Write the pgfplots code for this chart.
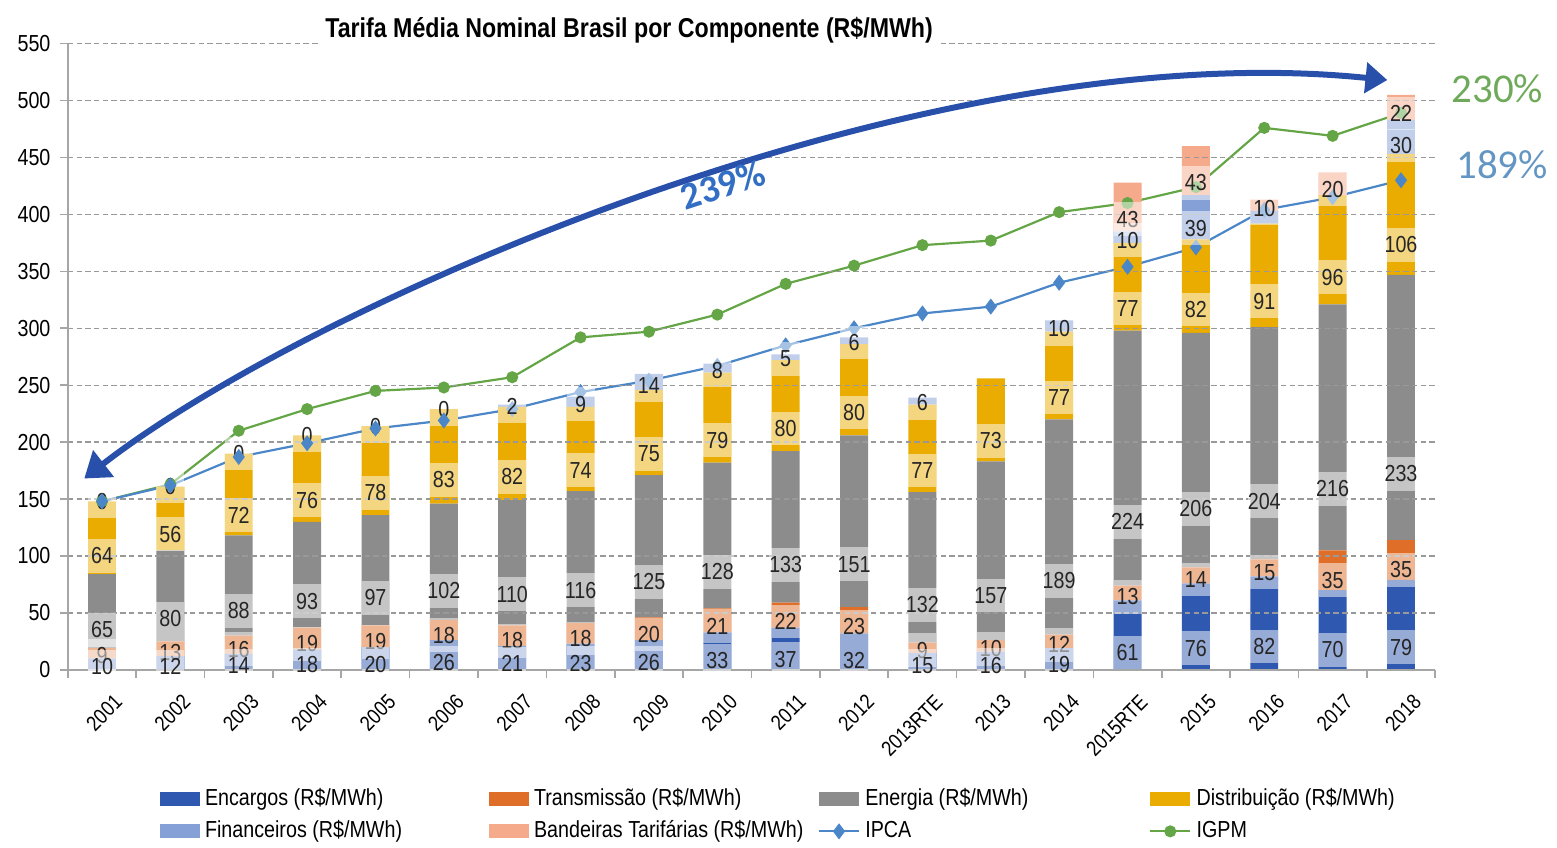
\documentclass[border=0pt]{standalone}
\usepackage{fontspec}
\setmainfont{Liberation Sans}[FakeStretch=0.85]
\newfontfamily\calfont{Carlito}
\usepackage{pgfplots}
\usepackage{pgfplotstable}
\pgfplotsset{compat=1.18}
\usetikzlibrary{arrows.meta}

\definecolor{enc}{RGB}{47,88,176}
\definecolor{trn}{RGB}{222,110,40}
\definecolor{ene}{RGB}{140,140,140}
\definecolor{dst}{RGB}{234,172,0}
\definecolor{fin}{RGB}{132,160,214}
\definecolor{ban}{RGB}{246,170,140}
\definecolor{ipca}{RGB}{74,134,200}
\definecolor{igpm}{RGB}{100,165,70}
\definecolor{seta}{RGB}{40,80,170}
\definecolor{t239}{RGB}{50,110,195}
\definecolor{t230}{RGB}{110,170,90}
\definecolor{t189}{RGB}{100,150,195}

\newcommand{\fs}{\fontsize{8.5}{10}\selectfont}

% fo/ft, bo/bt, zo/zt: opacidade do rotulo (0 = oculto)
% tot: topo da barra, onde ficam os rotulos "0" de Financeiros
\pgfplotstableread{
x  enc trn ene dst fin fo  ft ban bo  bt ipca igpm z tot zo  zt
0  10  9   65  64  0   0   0  0   0   0  148  148  0 148 0.5 1
1  12  13  80  56  0   0   0  0   0   0  162  163  0 161 0.5 1
2  14  16  88  72  0   0   0  0   0   0  187  210  0 190 0.5 1
3  18  19  93  76  0   0   0  0   0   0  199  229  0 206 0.5 1
4  20  19  97  78  0   0   0  0   0   0  212  245  0 214 0.5 1
5  26  18  102 83  0   0   0  0   0   0  219  248  0 229 0.5 1
6  21  18  110 82  2   0.5 1  0   0   0  229  257  0 233 0   0
7  23  18  116 74  9   0.5 1  0   0   0  244  292  0 240 0   0
8  26  20  125 75  14  0.5 1  0   0   0  254  297  0 260 0   0
9  33  21  128 79  8   0.5 1  0   0   0  267  312  0 269 0   0
10 37  22  133 80  5   0.5 1  0   0   0  285  339  0 277 0   0
11 32  23  151 80  6   0.5 1  0   0   0  300  355  0 292 0   0
12 15  9   132 77  6   0.5 1  0   0   0  313  373  0 239 0   0
13 16  10  157 73  0   0   0  0   0   0  319  377  0 256 0   0
14 19  12  189 77  10  0.5 1  0   0   0  340  402  0 307 0   0
15 61  13  224 77  10  0.5 1  43  0.5 1  354  410  0 428 0   0
16 76  14  206 82  39  0.5 1  43  0.5 1  371  424  0 460 0   0
17 82  15  204 91  11  0   0  10  0.5 1  404  476  0 413 0   0
18 70  35  216 96  0   0   0  20  0.5 1  415  469  0 437 0   0
19 79  35  233 106 30  0.5 1  22  0.5 1  430  489  0 505 0   0
}\dados

\pgfplotsset{
  seg/.style={
    fill=#1, draw=none,
    legend image code/.code={\fill[##1] (0cm,-0.09cm) rectangle (0.51cm,0.09cm);},
  },
  lineleg/.style={
    legend image code/.code={\draw[mark repeat=2,mark phase=2,##1] plot coordinates {(0cm,0cm) (0.255cm,0cm) (0.51cm,0cm)};},
  },
  % o deslocamento e aplicado duas vezes, por isso /4 centra o rotulo
  lbl/.style={
    nodes near coords, point meta=explicit symbolic,
    visualization depends on={\thisrow{#1} \as \hv},
    every node near coord/.append style={
      anchor=center, shift={(axis direction cs:0,-\hv/4)},
      fill=white, fill opacity=0.5, text opacity=1, text=black!85,
      minimum width=0.36cm, inner xsep=0pt, inner ysep=3.2pt, font=\fs},
  },
  opac/.style 2 args={
    visualization depends on={\thisrow{#1} \as \fop},
    visualization depends on={\thisrow{#2} \as \ftp},
    every node near coord/.append style={fill opacity=\fop, text opacity=\ftp},
  },
}

\begin{document}
\begin{tikzpicture}
\begin{axis}[
  scale only axis, width=17.62cm, height=8.07cm,
  ybar stacked, bar width=0.36cm,
  xmin=-0.5, xmax=19.5, ymin=0, ymax=550,
  enlarge x limits=false, enlarge y limits=false,
  xtick={0,...,19},
  xticklabels={2001,2002,2003,2004,2005,2006,2007,2008,2009,2010,2011,2012,2013RTE,2013,2014,2015RTE,2015,2016,2017,2018},
  x tick label style={rotate=45, anchor=north east, font=\fontsize{7.8}{9}\selectfont,
    inner sep=1pt, xshift=0cm, yshift=-0.2cm},
  minor xtick={-0.5,0.5,...,19.5},
  major x tick style={draw=none},
  ytick={0,50,...,550},
  y tick label style={font=\fs},
  /pgf/number format/assume math mode=true,
  axis x line*=bottom, axis y line*=left,
  axis line style={draw=black!35, line width=0.9pt},
  tick style={draw=black!35, line width=0.6pt},
  tick align=outside, major tick length=0.1cm, minor tick length=0.1cm,
  ymajorgrids, major grid style={draw=black!40, dash pattern=on 2pt off 1.2pt, line width=0.5pt},
  axis on top, clip=false,
  legend columns=4, legend cell align=left,
  legend style={draw=none, fill=none, at={(0.067,-0.18)}, anchor=north west, font=\fs,
    inner sep=0pt, row sep=0pt},
]
\addplot[seg=enc, lbl=enc] table[x=x, y=enc, meta=enc] {\dados};
\addplot[seg=trn, lbl=trn] table[x=x, y=trn, meta=trn] {\dados};
\addplot[seg=ene, lbl=ene] table[x=x, y=ene, meta=ene] {\dados};
\addplot[seg=dst, lbl=dst] table[x=x, y=dst, meta=dst] {\dados};
\addplot[seg=fin, lbl=fin, opac={fo}{ft}] table[x=x, y=fin, meta=fin] {\dados};
\addplot[seg=ban, lbl=ban, opac={bo}{bt}] table[x=x, y=ban, meta=ban] {\dados};
\addplot[sharp plot, stack plots=false, ipca, line width=0.8pt, mark=diamond*, mark size=2.3pt, lineleg]
  table[x=x, y=ipca] {\dados};
\addplot[sharp plot, stack plots=false, igpm, line width=0.8pt, mark=*, mark size=1.8pt, lineleg]
  table[x=x, y=igpm] {\dados};
% rotulos "0" de Financeiros (2001-2006), no topo da barra, por cima das linhas
% (o no sai em tot/2, dai o deslocamento de tot/2)
\addplot[forget plot, stack plots=false, only marks, mark=none,
  nodes near coords, point meta=explicit symbolic,
  visualization depends on={\thisrow{tot} \as \hv},
  every node near coord/.append style={
    anchor=center, shift={(axis direction cs:0,\hv/2)},
    fill=white, text=black!85, minimum width=0.36cm, inner xsep=0pt, inner ysep=3.2pt, font=\fs},
  opac={zo}{zt}]
  table[x=x, y=tot, meta=z] {\dados};
\legend{{\makebox[3.59cm][l]{Encargos (R\$/MWh)}},
        {\makebox[3.59cm][l]{Transmissão (R\$/MWh)}},
        {\makebox[3.59cm][l]{Energia (R\$/MWh)}},
        {\makebox[3.59cm][l]{Distribuição (R\$/MWh)}},
        {\makebox[3.59cm][l]{Financeiros (R\$/MWh)}},
        {\makebox[3.59cm][l]{Bandeiras Tarifárias (R\$/MWh)}},
        {\makebox[3.59cm][l]{IPCA}},
        {\makebox[3.59cm][l]{IGPM}}}
\coordinate (ttl) at (axis cs:7.71,562);
\coordinate (a0) at (axis cs:-0.26,168);
\coordinate (a1) at (axis cs:3,320);
\coordinate (a2) at (axis cs:12,560);
\coordinate (a3) at (axis cs:18.8,518);
\coordinate (p239) at (axis cs:9.08,426);
\coordinate (p230) at (axis cs:20.41,510);
\coordinate (p189) at (axis cs:20.48,444);
\end{axis}
\node[fill=white, inner sep=2pt, font=\bfseries\fontsize{10}{12}\selectfont] at (ttl)
  {Tarifa Média Nominal Brasil por Componente (R\$/MWh)};
\draw[seta, line width=2.2pt, {Triangle[length=9pt,width=12pt]}-{Triangle[length=8pt,width=11pt]}]
  (a0) .. controls (a1) and (a2) .. (a3);
\node[rotate=18, text=t239, font=\calfont\bfseries\fontsize{14}{16}\selectfont] at (p239) {239\%};
\node[text=t230, font=\calfont\fontsize{15}{18}\selectfont] at (p230) {230\%};
\node[text=t189, font=\calfont\fontsize{15}{18}\selectfont] at (p189) {189\%};
\path (-0.874,-2.209) rectangle (19.126,8.632);
\end{tikzpicture}
\end{document}
